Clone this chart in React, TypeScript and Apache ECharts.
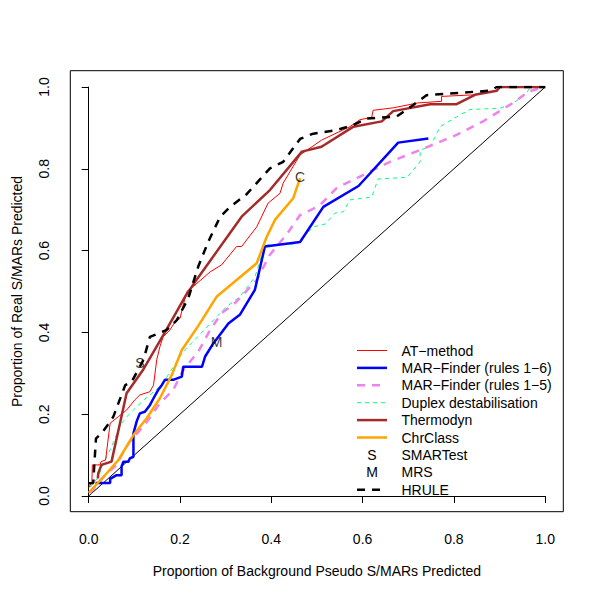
import React, { useEffect, useRef } from "react";
import * as echarts from "echarts";

const FONT = "'Liberation Sans', Arial, Helvetica, sans-serif";
const FS = 14;

const xTitle = "Proportion of Background Pseudo S/MARs Predicted";
const yTitle = "Proportion of Real S/MARs Predicted";

const diagonal = [[0, 0], [1, 1]];

const atMethod = [[0, 0.02], [0.007, 0.035], [0.008, 0.076], [0.025, 0.076], [0.027, 0.084], [0.037, 0.088], [0.047, 0.178], [0.065, 0.194], [0.083, 0.21], [0.101, 0.235], [0.112, 0.247], [0.134, 0.255], [0.142, 0.271], [0.149, 0.333], [0.156, 0.365], [0.163, 0.389], [0.178, 0.406], [0.189, 0.426], [0.2, 0.434], [0.207, 0.467], [0.215, 0.5], [0.229, 0.512], [0.266, 0.548], [0.291, 0.565], [0.324, 0.61], [0.335, 0.61], [0.368, 0.658], [0.393, 0.716], [0.419, 0.74], [0.426, 0.765], [0.463, 0.834], [0.51, 0.87], [0.572, 0.903], [0.594, 0.92], [0.62, 0.926], [0.623, 0.943], [0.667, 0.949], [0.721, 0.961], [0.773, 0.965], [0.773, 0.977], [0.846, 0.981], [0.894, 0.991], [0.901, 0.999], [1, 1]];

const marFinder16 = [[0.015, 0.032], [0.047, 0.032], [0.047, 0.042], [0.061, 0.051], [0.072, 0.051], [0.072, 0.072], [0.076, 0.084], [0.087, 0.084], [0.09, 0.092], [0.098, 0.096], [0.098, 0.153], [0.105, 0.182], [0.112, 0.202], [0.123, 0.206], [0.134, 0.222], [0.142, 0.239], [0.152, 0.259], [0.16, 0.271], [0.167, 0.284], [0.185, 0.284], [0.204, 0.292], [0.207, 0.316], [0.248, 0.316], [0.255, 0.341], [0.273, 0.373], [0.306, 0.422], [0.331, 0.443], [0.364, 0.504], [0.386, 0.61], [0.463, 0.621], [0.514, 0.707], [0.591, 0.758], [0.678, 0.864], [0.744, 0.874]];

const marFinder15 = [[0.003, 0.007], [0.036, 0.051], [0.061, 0.076], [0.076, 0.108], [0.09, 0.133], [0.123, 0.174], [0.156, 0.227], [0.185, 0.259], [0.207, 0.308], [0.24, 0.353], [0.266, 0.406], [0.291, 0.447], [0.32, 0.471], [0.368, 0.528], [0.397, 0.59], [0.434, 0.64], [0.463, 0.687], [0.506, 0.71], [0.543, 0.753], [0.594, 0.781], [0.66, 0.817], [0.726, 0.846], [0.806, 0.883], [0.864, 0.916], [0.935, 0.965], [0.963, 0.989], [1, 1]];

const duplex = [[0.003, 0.022], [0.021, 0.046], [0.032, 0.08], [0.05, 0.12], [0.065, 0.161], [0.072, 0.178], [0.087, 0.198], [0.105, 0.218], [0.123, 0.237], [0.138, 0.251], [0.16, 0.271], [0.178, 0.303], [0.207, 0.353], [0.24, 0.391], [0.269, 0.425], [0.302, 0.463], [0.331, 0.487], [0.364, 0.535], [0.379, 0.589], [0.39, 0.614], [0.456, 0.616], [0.492, 0.658], [0.518, 0.665], [0.54, 0.692], [0.558, 0.695], [0.572, 0.724], [0.62, 0.731], [0.634, 0.775], [0.697, 0.779], [0.726, 0.817], [0.726, 0.846], [0.748, 0.854], [0.77, 0.903], [0.806, 0.927], [0.835, 0.945], [0.901, 0.948], [0.93, 0.96], [0.959, 0.985], [0.966, 0.997], [1, 1]];

const thermodyn = [[0.02, 0.043], [0.021, 0.056], [0.028, 0.076], [0.05, 0.084], [0.083, 0.251], [0.12, 0.31], [0.17, 0.406], [0.211, 0.487], [0.236, 0.528], [0.335, 0.683], [0.397, 0.748], [0.467, 0.842], [0.51, 0.854], [0.58, 0.903], [0.642, 0.916], [0.667, 0.941], [0.748, 0.958], [0.806, 0.958], [0.846, 0.981], [0.894, 0.991], [0.901, 1.0], [1, 1]];

const chrClass = [[0, 0.008], [0.039, 0.055], [0.065, 0.088], [0.098, 0.149], [0.127, 0.19], [0.156, 0.239], [0.182, 0.296], [0.204, 0.357], [0.24, 0.416], [0.28, 0.487], [0.368, 0.569], [0.39, 0.634], [0.408, 0.675], [0.448, 0.728], [0.463, 0.777]];

const hrule = [[0, 0.031], [0.01, 0.032], [0.012, 0.072], [0.016, 0.141], [0.028, 0.153], [0.047, 0.182], [0.054, 0.194], [0.08, 0.271], [0.094, 0.279], [0.12, 0.333], [0.134, 0.389], [0.171, 0.406], [0.193, 0.43], [0.218, 0.483], [0.24, 0.561], [0.262, 0.622], [0.288, 0.683], [0.31, 0.707], [0.346, 0.738], [0.397, 0.801], [0.426, 0.817], [0.463, 0.873], [0.489, 0.885], [0.544, 0.895], [0.58, 0.907], [0.609, 0.923], [0.675, 0.928], [0.711, 0.956], [0.74, 0.98], [0.879, 0.991], [0.894, 1.0], [1, 1]];

const pointLabels = ["S", "M", "C"];
const pointX = [0.112, 0.28, 0.463];
const pointY = [0.326, 0.377, 0.779];

const legendNames = ["AT\u2212method", "MAR\u2212Finder (rules 1\u22126)", "MAR\u2212Finder (rules 1\u22125)", "Duplex destabilisation", "Thermodyn", "ChrClass", "SMARTest", "MRS", "HRULE"];

export default function App() {
  const ref = useRef<HTMLDivElement>(null);
  useEffect(() => {
    if (!ref.current) return;
    const chart = echarts.init(ref.current, null, { renderer: "svg" });

    const styles: any[] = [
      { color: "#FF0000", width: 1, dash: "solid" },
      { color: "#0000FF", width: 2.5, dash: "solid" },
      { color: "#EE82EE", width: 2.5, dash: [8, 7] },
      { color: "#00FF7F", width: 1, dash: [4, 4] },
      { color: "#A52A2A", width: 2.5, dash: "solid" },
      { color: "#FFA500", width: 2.5, dash: "solid" },
      null,
      null,
      { color: "#000000", width: 2.5, dash: [8, 7] },
    ];
    const legendSym = ["", "", "", "", "", "", "S", "M", ""];
    const seriesData = [atMethod, marFinder16, marFinder15, duplex, thermodyn, chrClass, null, null, hrule];
    const drawOrder = [3, 2, 0, 1, 5, 4, 8];

    const lineSeries: any[] = [
      {
        type: "line",
        xAxisIndex: 1,
        yAxisIndex: 1,
        data: diagonal,
        showSymbol: false,
        symbol: "none",
        lineStyle: { color: "#000", width: 1 },
        silent: true,
      },
    ];
    drawOrder.forEach((i) => {
      const s = styles[i];
      lineSeries.push({
        type: "line",
        name: legendNames[i],
        xAxisIndex: 1,
        yAxisIndex: 1,
        data: seriesData[i],
        showSymbol: false,
        symbol: "none",
        lineStyle: { color: s.color, width: s.width, type: s.dash },
        silent: true,
      });
    });
    lineSeries.push({
      type: "scatter",
      xAxisIndex: 1,
      yAxisIndex: 1,
      symbolSize: 1,
      itemStyle: { color: "rgba(0,0,0,0)" },
      data: pointLabels.map((n, i) => ({ name: n, value: [pointX[i], pointY[i]] })),
      label: {
        show: true,
        position: "inside",
        formatter: (p: any) => p.name,
        color: "#000",
        fontSize: FS,
        fontFamily: FONT,
      },
      z: 10,
      silent: true,
    });

    const legendX0 = 357;
    const legendX1 = 387;
    const legendTextX = 401.5;
    const legendY0 = 350.5;
    const legendDy = 17.4;
    const graphic: any[] = [];
    legendNames.forEach((name, i) => {
      const y = legendY0 + i * legendDy;
      const s = styles[i];
      if (s) {
        graphic.push({
          type: "line",
          shape: { x1: legendX0, y1: y, x2: legendX1, y2: y },
          style: { stroke: s.color, lineWidth: s.width, lineDash: s.dash === "solid" ? null : s.dash },
          silent: true,
        });
      } else {
        graphic.push({
          type: "text",
          x: (legendX0 + legendX1) / 2,
          y,
          style: { text: legendSym[i], align: "center", verticalAlign: "middle", fontSize: FS, fontFamily: FONT, fill: "#000" },
          silent: true,
        });
      }
      graphic.push({
        type: "text",
        x: legendTextX,
        y,
        style: { text: name, align: "left", verticalAlign: "middle", fontSize: FS, fontFamily: FONT, fill: "#000" },
        silent: true,
      });
    });

    const axisCommon = {
      type: "value",
      min: 0,
      max: 1,
      interval: 0.2,
      splitLine: { show: false },
      axisLine: { show: true, lineStyle: { color: "#000", width: 1 } },
      axisTick: { show: true, length: 7, lineStyle: { color: "#000", width: 1 } },
      nameTextStyle: { fontSize: FS, fontFamily: FONT, color: "#000" },
    };

    chart.setOption({
      animation: false,
      backgroundColor: "#fff",
      textStyle: { fontFamily: FONT },
      grid: [
        { left: 70.3, top: 70.7, width: 493, height: 441, show: true, borderColor: "#000", borderWidth: 1, backgroundColor: "transparent" },
        { left: 88.7, top: 87, width: 456.5, height: 409 },
      ],
      xAxis: [
        { type: "value", gridIndex: 0, min: -0.04, max: 1.04, show: false },
        {
          ...axisCommon,
          gridIndex: 1,
          position: "bottom",
          offset: 15.7,
          name: xTitle,
          nameLocation: "middle",
          nameGap: 52,
          axisLabel: { formatter: (v: number) => v.toFixed(1), fontSize: FS, fontFamily: FONT, color: "#000", margin: 20 },
        },
      ],
      yAxis: [
        { type: "value", gridIndex: 0, min: -0.04, max: 1.04, show: false },
        {
          ...axisCommon,
          gridIndex: 1,
          position: "left",
          offset: 18.4,
          name: yTitle,
          nameLocation: "middle",
          nameGap: 46,
          axisLabel: { formatter: (v: number) => v.toFixed(1), fontSize: FS, fontFamily: FONT, color: "#000", margin: 19, rotate: 90 },
        },
      ],
      series: lineSeries,
      graphic,
    });
    return () => chart.dispose();
  }, []);
  return (
    <div
      ref={ref}
      style={{ position: "fixed", left: 0, top: 0, width: 600, height: 600, background: "#fff" }}
    />
  );
}
